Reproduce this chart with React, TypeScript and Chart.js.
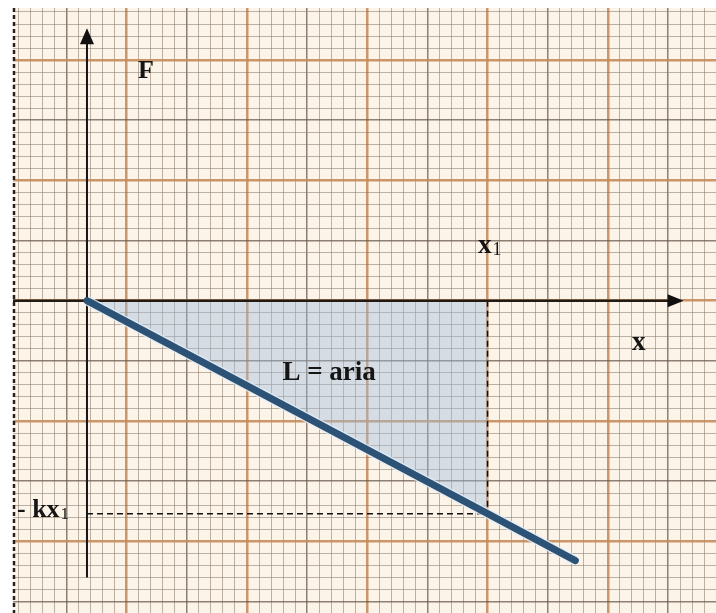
import { useEffect, useRef } from "react";
import { Chart, registerables } from "chart.js";

Chart.register(...registerables);

// Units: one small square of the graph paper = 1.
// Heavy rulings every 10 squares, medium rulings every 5.
const paperX = [-9.45, 48.99];
const paperY = [-25.96, 24.33];

// Axes of the F–x diagram
const originX = -3.3;
const xAxisSpan = [-9.45, 46.3];
const yAxisSpan = [-23.0, 22.65];

// Elastic force F = -k x, read at the origin, at x1 and at the end of the drawn line
const forceX = [-3.3, 30, 37.3];
const forceY = [0, -17.7, -21.6];

// x1 and the force -k·x1 it produces
const x1 = 30;
const forceAtX1 = -17.7;

type Label = { text: string; sub?: string; x: number; y: number; size: number };

const labels: Label[] = [
  { text: "F", x: 0.94, y: 18.5, size: 26 },
  { text: "x", sub: "1", x: 29.2, y: 3.95, size: 27 },
  { text: "x", x: 42.0, y: -4.1, size: 27 },
  { text: "L = aria", x: 12.95, y: -6.6, size: 27 },
  { text: "- kx", sub: "1", x: -9.12, y: -18.0, size: 26 },
];

const SERIF = '"Liberation Serif", "DejaVu Serif", serif';

function gridColor(ctx: any) {
  const v = Math.round(ctx.tick?.value ?? 0);
  if (v % 10 === 0) return "rgba(196,140,92,0.9)";
  if (v % 5 === 0) return "rgba(105,90,75,0.75)";
  return "rgba(135,120,105,0.55)";
}

function gridWidth(ctx: any) {
  const v = Math.round(ctx.tick?.value ?? 0);
  if (v % 10 === 0) return 2.5;
  if (v % 5 === 0) return 1.5;
  return 1;
}

const paperPlugin = {
  id: "paper",
  beforeDraw(chart: any) {
    const { ctx, chartArea } = chart;
    ctx.save();
    ctx.fillStyle = "#fcf3e9";
    ctx.fillRect(chartArea.left, chartArea.top, chartArea.right - chartArea.left, chartArea.bottom - chartArea.top);
    ctx.restore();
  },
  afterDraw(chart: any) {
    const { ctx, chartArea } = chart;
    const xs = chart.scales.x;
    const ys = chart.scales.y;
    ctx.save();

    // torn left edge of the sheet
    ctx.strokeStyle = "#2a2018";
    ctx.lineWidth = 2.5;
    ctx.setLineDash([4, 3]);
    ctx.beginPath();
    ctx.moveTo(chartArea.left + 1, chartArea.top);
    ctx.lineTo(chartArea.left + 1, chartArea.bottom);
    ctx.stroke();
    ctx.setLineDash([]);

    // arrow heads
    ctx.fillStyle = "#111";
    const ax = xs.getPixelForValue(originX);
    const ayTip = ys.getPixelForValue(yAxisSpan[1]);
    ctx.beginPath();
    ctx.moveTo(ax, ayTip);
    ctx.lineTo(ax - 7, ayTip + 16);
    ctx.lineTo(ax + 7, ayTip + 16);
    ctx.closePath();
    ctx.fill();

    const bxTip = xs.getPixelForValue(xAxisSpan[1]);
    const by = ys.getPixelForValue(0);
    ctx.beginPath();
    ctx.moveTo(bxTip, by);
    ctx.lineTo(bxTip - 16, by - 6.5);
    ctx.lineTo(bxTip - 16, by + 6.5);
    ctx.closePath();
    ctx.fill();

    // labels
    ctx.fillStyle = "#151515";
    ctx.textBaseline = "alphabetic";
    ctx.textAlign = "left";
    for (const l of labels) {
      const px = xs.getPixelForValue(l.x);
      const py = ys.getPixelForValue(l.y);
      ctx.font = `bold ${l.size}px ${SERIF}`;
      ctx.fillText(l.text, px, py);
      if (l.sub) {
        const w = ctx.measureText(l.text).width;
        ctx.font = `${Math.round(l.size * 0.65)}px ${SERIF}`;
        ctx.fillText(l.sub, px + w + 1, py + 2);
      }
    }
    ctx.restore();
  },
};

export default function App() {
  const ref = useRef<HTMLCanvasElement | null>(null);

  useEffect(() => {
    if (!ref.current) return;
    const pts = (xs: number[], ys: number[]) => xs.map((x, i) => ({ x, y: ys[i] }));

    const chart = new Chart(ref.current, {
      type: "line",
      data: {
        datasets: [
          {
            label: "F = -kx",
            data: pts(forceX, forceY),
            borderColor: "#2c5276",
            borderWidth: 7,
            borderCapStyle: "round",
            pointRadius: 0,
            fill: false,
          },
          {
            label: "halo",
            data: pts(forceX, forceY),
            borderColor: "rgba(225,238,248,0.8)",
            borderWidth: 10,
            pointRadius: 0,
            fill: false,
          },
          {
            label: "y axis",
            data: pts([originX, originX], [yAxisSpan[0], yAxisSpan[1] - 0.8]),
            borderColor: "#161616",
            borderWidth: 2,
            pointRadius: 0,
            fill: false,
          },
          {
            label: "x axis",
            data: pts([xAxisSpan[0], xAxisSpan[1] - 0.8], [0, 0]),
            borderColor: "#221a14",
            borderWidth: 2.5,
            pointRadius: 0,
            fill: false,
          },
          {
            label: "x1 guide",
            data: pts([x1, x1], [0, forceAtX1]),
            borderColor: "#111",
            borderWidth: 1.5,
            borderDash: [6, 4],
            pointRadius: 0,
            fill: false,
          },
          {
            label: "-kx1 guide",
            data: pts([originX, x1], [forceAtX1, forceAtX1]),
            borderColor: "#111",
            borderWidth: 1.5,
            borderDash: [6, 4],
            pointRadius: 0,
            fill: false,
          },
          {
            label: "L = aria",
            data: pts([forceX[0], x1], [forceY[0], forceAtX1]),
            borderWidth: 0,
            borderColor: "rgba(0,0,0,0)",
            backgroundColor: "rgba(160,188,220,0.42)",
            pointRadius: 0,
            fill: { value: 0 },
          },
        ],
      },
      options: {
        animation: false,
        responsive: false,
        events: [],
        layout: { padding: { left: 13, top: 8, right: 0, bottom: 0 } },
        plugins: {
          legend: { display: false },
          tooltip: { enabled: false },
          title: { display: false },
        },
        scales: {
          x: {
            type: "linear",
            min: paperX[0],
            max: paperX[1],
            ticks: { display: false, stepSize: 1, includeBounds: false, autoSkip: false },
            grid: { drawTicks: false, color: gridColor, lineWidth: gridWidth },
            border: { display: false },
          },
          y: {
            type: "linear",
            min: paperY[0],
            max: paperY[1],
            ticks: { display: false, stepSize: 1, includeBounds: false, autoSkip: false },
            grid: { drawTicks: false, color: gridColor, lineWidth: gridWidth },
            border: { display: false },
          },
        },
      },
      plugins: [paperPlugin],
    } as any);

    return () => chart.destroy();
  }, []);

  return (
    <div style={{ position: "fixed", left: 0, top: 0, width: 716, height: 613, background: "#fff" }}>
      <canvas ref={ref} width={716} height={613} style={{ display: "block" }} />
    </div>
  );
}
